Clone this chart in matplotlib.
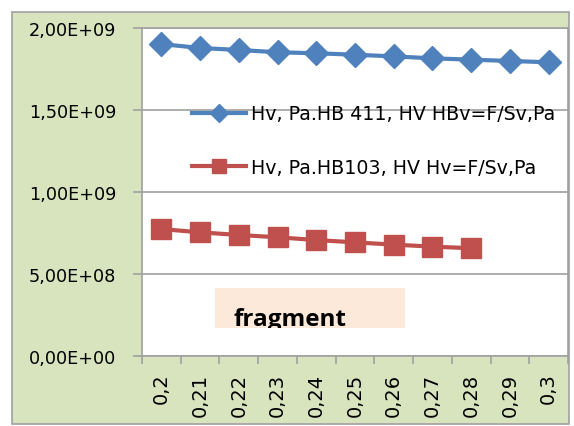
import matplotlib
matplotlib.use("Agg")
import matplotlib.pyplot as plt
from matplotlib.patches import Rectangle

categories = ["0,2", "0,21", "0,22", "0,23", "0,24", "0,25", "0,26", "0,27", "0,28", "0,29", "0,3"]
hb411 = [1.902e9, 1.878e9, 1.866e9, 1.852e9, 1.846e9, 1.837e9, 1.827e9, 1.815e9, 1.807e9, 1.799e9, 1.791e9]
hb103 = [0.774e9, 0.754e9, 0.738e9, 0.724e9, 0.707e9, 0.693e9, 0.679e9, 0.667e9, 0.657e9]
label411 = "Hv, Pa.HB 411, HV HBv=F/Sv,Pa"
label103 = "Hv, Pa.HB103, HV Hv=F/Sv,Pa"
yticks = [0, 5e8, 1e9, 1.5e9, 2e9]
ytick_labels = ["0,00E+00", "5,00E+08", "1,00E+09", "1,50E+09", "2,00E+09"]

plt.rcParams["font.family"] = ["DejaVu Sans"]

W, H = 574, 427
fig = plt.figure(figsize=(W / 100, H / 100), dpi=100)
fig.patch.set_facecolor("white")

def fx(px):
    return px / W

def fy(py):
    return 1 - py / H

# chart area background with border
bg = Rectangle((fx(12), fy(425)), fx(569) - fx(12), fy(13) - fy(425),
               transform=fig.transFigure, facecolor="#D7E4BD",
               edgecolor="#A0A0A0", linewidth=1.2, zorder=-5)
fig.patches.append(bg)

ax = fig.add_axes([fx(142), fy(357), fx(568) - fx(142), fy(29) - fy(357)])
ax.set_zorder(1)
ax.set_facecolor("white")

x = list(range(len(categories)))
ax.plot(x[:len(hb411)], hb411, color="#4F81BD", linewidth=3, marker="D",
        markersize=12, label=label411, zorder=3)
ax.plot(x[:len(hb103)], hb103, color="#C0504D", linewidth=3, marker="s",
        markersize=14, label=label103, zorder=3)

ax.set_xlim(-0.5, len(categories) - 0.5)
ax.set_ylim(0, 2e9)
ax.set_yticks(yticks)
ax.set_yticklabels(ytick_labels, fontsize=12.7)
ax.set_xticks(x)
ax.set_xticklabels(categories, rotation=90, fontsize=14, va="top")
ax.set_xticks([i - 0.5 for i in range(len(categories) + 1)], minor=True)
ax.tick_params(axis="x", which="major", length=0, pad=12)
ax.tick_params(axis="x", which="minor", length=6, color="#A0A0A0", width=1.2)
ax.tick_params(axis="y", length=6.5, color="#A0A0A0", width=1.2, pad=12)
ax.yaxis.grid(True, color="#A0A0A0", linewidth=1.2)
ax.set_axisbelow(True)
for s in ax.spines.values():
    s.set_color("#A0A0A0")
    s.set_linewidth(1.2)

leg = ax.legend(loc="upper left", bbox_to_anchor=(fx(192), fy(105.5)),
                bbox_transform=fig.transFigure, frameon=False, fontsize=13.7,
                handlelength=2.85, handletextpad=0.26, labelspacing=1.82,
                borderpad=0, borderaxespad=0, numpoints=1, markerscale=0.75)

# fragment box
rect = Rectangle((fx(215), fy(329)), fx(405) - fx(215), fy(289) - fy(329),
                 transform=fig.transFigure, facecolor="#FDE9D9", edgecolor="none", zorder=4)
fig.patches.append(rect)
t = fig.text(fx(234), fy(326), "fragment", fontsize=17.5, fontweight="bold",
             color="black", ha="left", va="baseline", zorder=5,
             family=["Open Sans", "DejaVu Sans"])
t.set_clip_path(rect)

fig.savefig("out.png", dpi=100, facecolor=fig.get_facecolor())
